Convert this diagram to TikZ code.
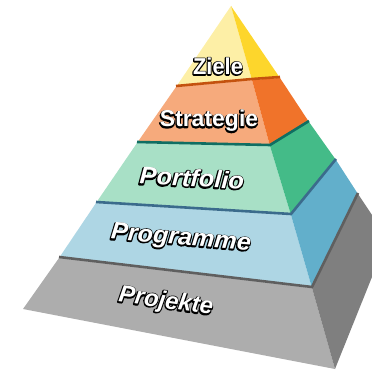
\documentclass[tikz,border=0pt]{standalone}
\usepackage{fontspec}
\setmainfont{Liberation Sans}
\definecolor{yelF}{HTML}{FDEFA6}
\definecolor{yelR}{HTML}{FDD62C}
\definecolor{orgF}{HTML}{F6AA7C}
\definecolor{orgR}{HTML}{F0732A}
\definecolor{orgL}{HTML}{C4520E}
\definecolor{grnF}{HTML}{A8E0C6}
\definecolor{grnR}{HTML}{44BB88}
\definecolor{grnL}{HTML}{0F6E62}
\definecolor{bluF}{HTML}{AED6E4}
\definecolor{bluR}{HTML}{62AFCB}
\definecolor{bluL}{HTML}{3B6B8C}
\definecolor{gryF}{HTML}{ADADAD}
\definecolor{gryR}{HTML}{7F7F7F}
\definecolor{gryL}{HTML}{5F5F5F}
% black outline layer: stroke-only text
\newcommand\strokeonly[1]{\special{pdf:literal direct 1 Tr 2.3 w 0 G 1 j}#1\special{pdf:literal direct 0 Tr}}
\tikzset{
  face/.style={line join=round},
  sepline/.style={line width=2.6pt, line join=round},
  lbl/.style={inner sep=0pt, text=white, font=\bfseries\fontsize{24}{24}\selectfont},
  lblup/.style={lbl, font=\bfseries\fontsize{23}{23}\selectfont},
  lblit/.style={lbl, font=\bfseries\itshape\fontsize{24}{24}\selectfont},
}
\newcommand\olabel[4]{% name, position, options, text
  \node[#3, text=black, shift={(-0.4,0.4)}] at (#2) {\strokeonly{#4}};
  \node[#3] (#1) at (#2) {#4};
}
\begin{document}
\begin{tikzpicture}[x=1pt,y=-1pt]
\useasboundingbox (0,0) rectangle (372,371);
% corner coordinates
\coordinate (A) at (231,6);
\coordinate (L1) at (176,87);
\coordinate (L2) at (137,143);
\coordinate (L3) at (96,203);
\coordinate (L4) at (59,258);
\coordinate (L5) at (23,309);
\coordinate (R1) at (252,80);
\coordinate (R2) at (270,146);
\coordinate (R3) at (291,215);
\coordinate (R4) at (312,288);
\coordinate (R5) at (335,369);
\coordinate (B1) at (280,78);
\coordinate (B2) at (309,122);
\coordinate (B3) at (336,160);
\coordinate (B4) at (358,194);
\coordinate (B5) at (372,215);
\coordinate (B6) at (372,277);
% faces
\fill[face, yelF] (A) -- (L1) -- (R1) -- cycle;
\fill[face, yelR] (A) -- (R1) -- (B1) -- cycle;
\fill[face, orgF] (L1) -- (L2) -- (R2) -- (R1) -- cycle;
\fill[face, orgR] (R1) -- (R2) -- (B2) -- (B1) -- cycle;
\fill[face, grnF] (L2) -- (L3) -- (R3) -- (R2) -- cycle;
\fill[face, grnR] (R2) -- (R3) -- (B3) -- (B2) -- cycle;
\fill[face, bluF] (L3) -- (L4) -- (R4) -- (R3) -- cycle;
\fill[face, bluR] (R3) -- (R4) -- (B4) -- (B3) -- cycle;
\fill[face, gryF] (L4) -- (L5) -- (R5) -- (R4) -- cycle;
\fill[face, gryR] (R4) -- (R5) -- (B6) -- (B5) -- (B4) -- cycle;
% separator lines (top edge of each lower slab)
\draw[sepline, orgL] ([yshift=1pt]L1) -- ([yshift=1pt]R1) -- ([yshift=1pt]B1);
\draw[sepline, grnL] ([yshift=1pt]L2) -- ([yshift=1pt]R2) -- ([yshift=1pt]B2);
\draw[sepline, bluL] ([yshift=1pt]L3) -- ([yshift=1pt]R3) -- ([yshift=1pt]B3);
\draw[sepline, gryL] ([yshift=1pt]L4) -- ([yshift=1pt]R4) -- ([yshift=1pt]B4);
% labels
\olabel{ziele}{218,66}{lblup, xscale=0.95}{Ziele}
\olabel{strategie}{209,121}{lblup, xscale=1.0}{Strategie}
\olabel{portfolio}{192,178}{lblit, xscale=1.06, rotate=-3}{Portfolio}
\olabel{programme}{181,239}{lblit, xscale=1.05, rotate=-5}{Programme}
\olabel{projekte}{166,302}{lblit, xscale=1.0, rotate=-8}{Projekte}
\end{tikzpicture}
\end{document}
